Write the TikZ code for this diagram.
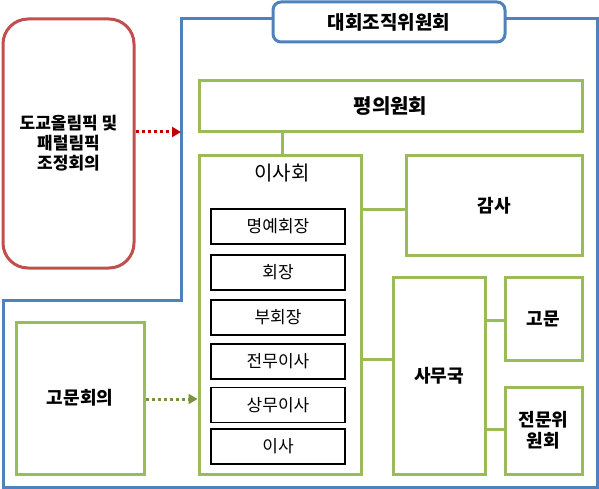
\documentclass[tikz,border=0pt]{standalone}
\usepackage{fontspec}
\setmainfont{Noto Sans CJK KR}
\usetikzlibrary{arrows.meta}
\definecolor{cblue}{HTML}{4F81BD}
\definecolor{cgreen}{HTML}{9BBB59}
\definecolor{cred}{HTML}{C0504D}
\definecolor{darkred}{HTML}{C00000}
\definecolor{dgreen}{HTML}{77933C}
\tikzset{
  gbox/.style={draw=cgreen, line width=3pt, fill=white, inner sep=0pt, font=\bfseries\fontsize{18}{21}\selectfont, align=center},
  kbox/.style={draw=black, line width=1.2pt, fill=white, inner sep=0pt, minimum width=134pt, minimum height=35pt, font=\fontsize{17}{20}\selectfont},
  gline/.style={draw=cgreen, line width=3pt},
  darr/.style={line width=3pt, dash pattern=on 3pt off 3pt, -{Triangle[length=9pt,width=10pt]}},
}
\begin{document}
\begin{tikzpicture}[x=1pt,y=-1pt]
\useasboundingbox (0,0) rectangle (599,489);
% outer blue outline
\draw[cblue, line width=3pt, line join=miter] (273,19) -- (181,19) -- (181,300) -- (3,300) -- (3,487) -- (597,487) -- (597,19) -- (505,19);
% title box
\node[draw=cblue, line width=3pt, rounded corners=8pt, fill=white, minimum width=232pt, minimum height=40pt, inner sep=0pt, font=\bfseries\fontsize{19}{22}\selectfont] (title) at (389,22) {대회조직위원회};
% red box
\node[draw=cred, line width=3pt, rounded corners=25pt, minimum width=131pt, minimum height=249pt, inner sep=0pt, font=\bfseries\fontsize{17}{20}\selectfont, align=center] (tokyo) at (68.5,143.5) {도교올림픽 및\\패럴림픽\\조정회의};
% green boxes
\node[gbox, minimum width=383pt, minimum height=51pt, font=\bfseries\fontsize{20}{23}\selectfont] (pyeong) at (390.5,106.5) {평의원회};
\node[gbox, minimum width=162pt, minimum height=318pt] (isa) at (280,315) {};
\node[font=\fontsize{20}{23}\selectfont] (isalabel) at (282,173) {이사회};
\node[gbox, minimum width=176pt, minimum height=99pt] (gamsa) at (494,205.5) {감사};
\node[gbox, minimum width=92pt, minimum height=197pt] (samu) at (439,375.5) {사무국};
\node[gbox, minimum width=77pt, minimum height=83pt] (gomun) at (543.5,318.5) {고문};
\node[gbox, minimum width=77pt, minimum height=87pt] (jeonmun) at (543.5,430.5) {전문위\\원회};
\node[gbox, minimum width=128pt, minimum height=152pt] (gomunhoe) at (80,398) {고문회의};
% inner black boxes
\node[kbox] (k1) at (278,226.5) {명예회장};
\node[kbox] (k2) at (278,272.5) {회장};
\node[kbox] (k3) at (278,317.5) {부회장};
\node[kbox] (k4) at (278,361.5) {전무이사};
\node[kbox] (k5) at (278,405) {상무이사};
\node[kbox] (k6) at (278,446.5) {이사};
% connectors
\draw[gline] (pyeong.south -| 282,0) -- (isa.north -| 282,0);
\draw[gline] (isa.east |- 0,209) -- (gamsa.west |- 0,209);
\draw[gline] (isa.east |- 0,359) -- (samu.west |- 0,359);
\draw[gline] (samu.east |- 0,320) -- (gomun.west |- 0,320);
\draw[gline] (samu.east |- 0,429) -- (jeonmun.west |- 0,429);
% dotted arrows
\coordinate (redend) at (181,132);
\draw[darr, darkred] (tokyo.east |- 0,132) -- (redend);
\draw[darr, dgreen] (gomunhoe.east |- 0,399) -- (isa.west |- 0,399);
\end{tikzpicture}
\end{document}
